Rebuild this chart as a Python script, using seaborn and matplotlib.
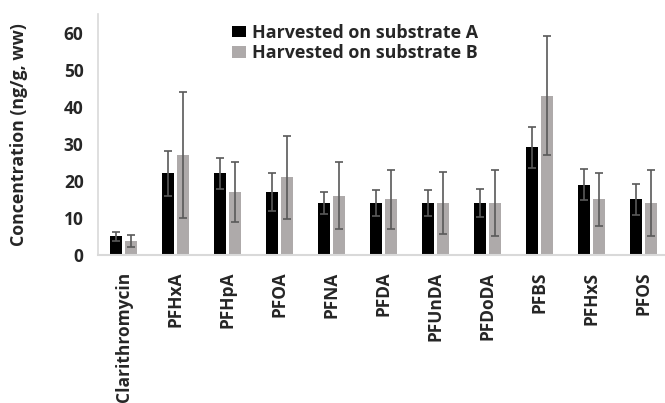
import numpy as np
import pandas as pd
import matplotlib
matplotlib.use("Agg")
import matplotlib.pyplot as plt
import seaborn as sns

categories = ["Clarithromycin", "PFHxA", "PFHpA", "PFOA", "PFNA", "PFDA",
              "PFUnDA", "PFDoDA", "PFBS", "PFHxS", "PFOS"]
substrate_a = [5, 22, 22, 17, 14, 14, 14, 14, 29, 19, 15]
substrate_a_err = [1.2, 6, 4.2, 5, 3, 3.4, 3.6, 3.7, 5.5, 4.2, 4.2]
substrate_b = [3.8, 27, 17, 21, 16, 15, 14, 14, 43, 15, 14]
substrate_b_err = [1.7, 17, 8, 11.2, 9, 8, 8.3, 9, 16, 7.2, 8.8]
series_names = ["Harvested on substrate A", "Harvested on substrate B"]
y_ticks = [0, 10, 20, 30, 40, 50, 60]

sns.set_theme(style="white")
plt.rcParams["font.family"] = ["Open Sans", "DejaVu Sans"]
plt.rcParams["font.weight"] = "bold"

df = pd.DataFrame({
    "category": categories * 2,
    "value": substrate_a + substrate_b,
    "series": [series_names[0]] * len(categories) + [series_names[1]] * len(categories),
})

fig = plt.figure(figsize=(6.65, 4.03), dpi=100)
ax = fig.add_axes([97.5 / 665, 1 - 255 / 403, (665 - 97.5) / 665, (255 - 14) / 403])

palette = {series_names[0]: "#000000", series_names[1]: "#AEAAAA"}
sns.barplot(data=df, x="category", y="value", hue="series", order=categories,
            hue_order=series_names, palette=palette, errorbar=None,
            width=0.585, gap=0.24, saturation=1, ax=ax, linewidth=0)

# error bars at bar centres (patches sorted by x alternate A, B)
patches = [p for p in ax.patches if p.get_width() > 0]
patches = sorted(patches, key=lambda p: p.get_x())
centers = np.array([p.get_x() + p.get_width() / 2 for p in patches])
heights = np.array([p.get_height() for p in patches])
errs = []
for i in range(len(categories)):
    errs.append(substrate_a_err[i])
    errs.append(substrate_b_err[i])
ax.errorbar(centers, heights, yerr=errs, fmt="none", ecolor="#595959",
            elinewidth=1.2, capsize=2.6, capthick=1.2, zorder=5)

ax.set_xlim(-0.5, 10.41)
ax.set_ylim(0, 65)
ax.set_yticks(y_ticks)
ax.set_yticklabels([str(t) for t in y_ticks], fontsize=12.5, fontweight="bold")
ax.set_xticks(range(len(categories)))
ax.set_xticklabels(categories, rotation=90, fontsize=12.5, fontweight="bold")
ax.tick_params(axis="y", length=0, pad=10)
ax.tick_params(axis="x", length=0, pad=12)
ax.set_xlabel("")
ax.set_ylabel("Concentration (ng/g, ww)", fontsize=12.8, fontweight="bold")
ax.yaxis.set_label_coords((28 - 97.5) / 567.5, 0.5)

for s in ["top", "right"]:
    ax.spines[s].set_visible(False)
ax.spines["left"].set_color("#D9D9D9")
ax.spines["bottom"].set_color("#D9D9D9")
ax.spines["left"].set_linewidth(1.2)
ax.spines["bottom"].set_linewidth(1.5)

leg = ax.legend(loc="upper left", bbox_to_anchor=((225 - 97.5) / 567.5, 0.99), frameon=False,
                prop={"size": 12.9, "weight": "bold"}, handlelength=0.75,
                handleheight=0.6, handletextpad=0.35, labelspacing=0.15,
                borderaxespad=0.0)

fig.savefig("out.png", dpi=100)
